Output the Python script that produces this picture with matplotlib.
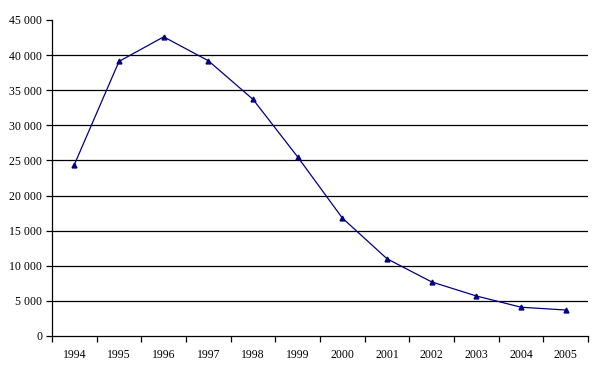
import matplotlib
matplotlib.use("Agg")
import matplotlib.pyplot as plt
import numpy as np
from matplotlib.ticker import FuncFormatter, FixedLocator

years = ["1994", "1995", "1996", "1997", "1998", "1999", "2000", "2001", "2002", "2003", "2004", "2005"]
values = [24400, 39100, 42600, 39200, 33700, 25500, 16800, 11000, 7700, 5700, 4100, 3700]

plt.rcParams['font.family'] = ['Liberation Serif', 'DejaVu Serif']

fig = plt.figure(figsize=(5.97, 3.72), dpi=100)
W, H = 597, 372
ax = fig.add_axes([52 / W, (H - 336) / H, 536 / W, 316 / H])

x = np.arange(len(years))
ax.plot(x, values, color="#000080", linewidth=0.9, marker="^", markersize=3.5,
        markerfacecolor="#000080", markeredgecolor="#000080")

ax.set_xlim(-0.5, len(years) - 0.5)
ax.set_ylim(0, 45000)
yt = np.arange(0, 45001, 5000)
ax.set_yticks(yt)
ax.yaxis.set_major_formatter(FuncFormatter(lambda v, p: f"{int(v):,}".replace(",", " ")))
for v in yt[1:-1]:
    ax.axhline(v, color="black", linewidth=0.9, zorder=0.5)

ax.set_xticks(x)
ax.set_xticklabels(years)
ax.xaxis.set_minor_locator(FixedLocator(np.arange(-0.5, len(years), 1.0)))
ax.tick_params(axis="x", which="major", length=0, pad=9, labelsize=8.5)
ax.tick_params(axis="x", which="minor", length=4, width=0.9, direction="out")
ax.tick_params(axis="y", length=4, width=0.9, direction="out", labelsize=8.5, pad=3)

for s in ["top", "right"]:
    ax.spines[s].set_visible(False)
for s in ["left", "bottom"]:
    ax.spines[s].set_linewidth(0.9)

fig.savefig("out.png", dpi=100)
